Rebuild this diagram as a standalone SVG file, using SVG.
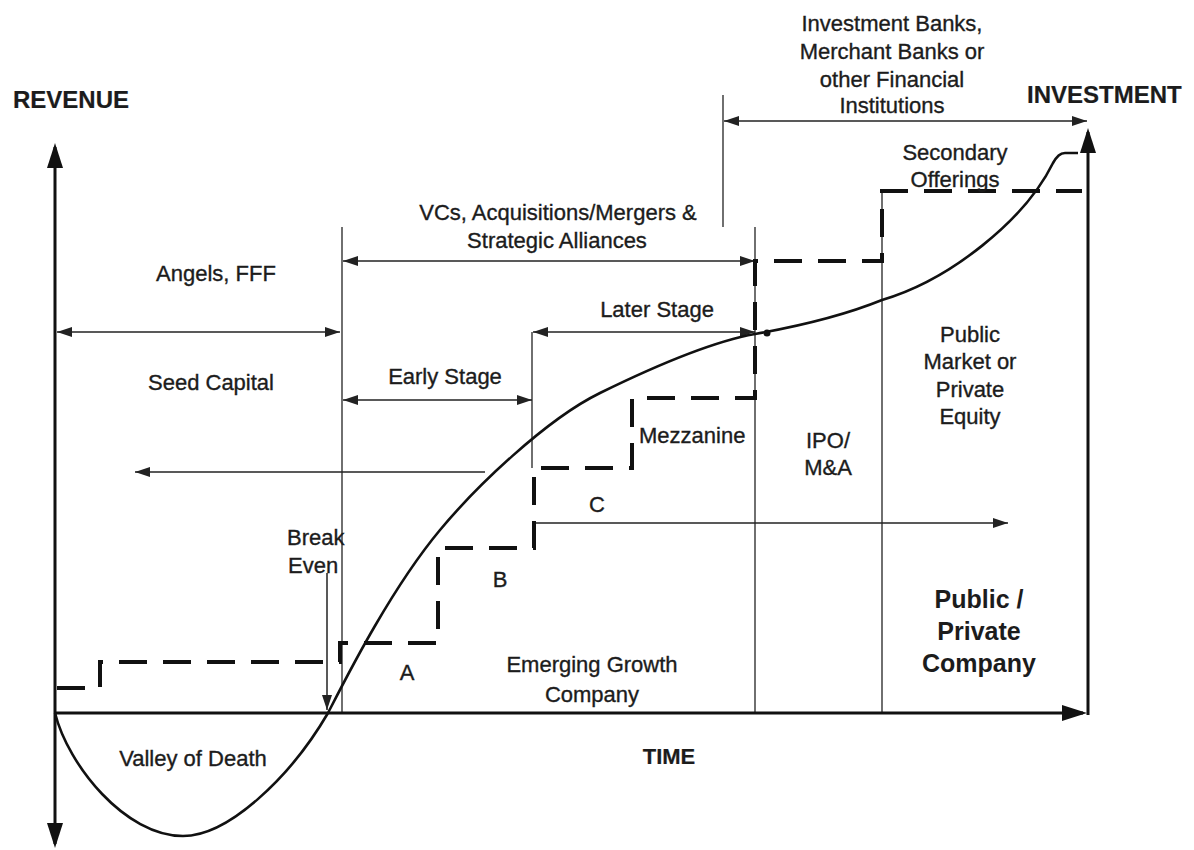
<svg xmlns="http://www.w3.org/2000/svg" width="1194" height="850" viewBox="0 0 1194 850">
<style>
text{font-family:"Liberation Sans",Arial,sans-serif;fill:#1c1c1c;font-size:22px;stroke:#1c1c1c;stroke-width:0.35}
.c{text-anchor:middle}
.b{font-weight:bold;font-size:24px;stroke-width:0.2}
.big{font-size:25px;font-weight:bold;stroke-width:0}
.thin{stroke:#222;stroke-width:1.5;fill:none}
.sep{stroke:#333;stroke-width:1.4;fill:none}
.axis{stroke:#111;stroke-width:3;fill:none}
.inv{stroke:#111;stroke-width:4;fill:none;stroke-dasharray:28 16}
.rev{stroke:#111;stroke-width:2.6;fill:none}
</style>
<defs>
<marker id="ah" markerUnits="userSpaceOnUse" markerWidth="15" markerHeight="10" refX="15" refY="5" orient="auto-start-reverse"><path d="M0,0 L15,5 L0,10 z" fill="#222"/></marker>
<marker id="ax" markerUnits="userSpaceOnUse" markerWidth="25" markerHeight="16" refX="21" refY="8" orient="auto-start-reverse"><path d="M0,0 L25,8 L0,16 z" fill="#111"/></marker>
</defs>
<rect width="1194" height="850" fill="#fff"/>
<g id="connectors">
<line class="sep" x1="342" y1="227" x2="342" y2="713"/>
<line class="sep" x1="532" y1="332" x2="532" y2="468"/>
<line class="sep" x1="723" y1="95" x2="723" y2="227"/>
<line class="sep" x1="755" y1="227" x2="755" y2="713"/>
<line class="sep" x1="882" y1="191" x2="882" y2="713"/>
<line class="thin" x1="57" y1="332" x2="340" y2="332" marker-start="url(#ah)" marker-end="url(#ah)"/>
<line class="thin" x1="343" y1="261" x2="755" y2="261" marker-start="url(#ah)" marker-end="url(#ah)"/>
<line class="thin" x1="724" y1="121" x2="1087" y2="121" marker-start="url(#ah)" marker-end="url(#ah)"/>
<line class="thin" x1="533" y1="332" x2="755" y2="332" marker-start="url(#ah)" marker-end="url(#ah)"/>
<line class="thin" x1="343" y1="400" x2="532" y2="400" marker-start="url(#ah)" marker-end="url(#ah)"/>
<line class="thin" x1="485" y1="472" x2="135" y2="472" marker-end="url(#ah)"/>
<line class="thin" x1="535" y1="523" x2="1008" y2="523" marker-end="url(#ah)"/>
<line class="thin" x1="327" y1="573" x2="327" y2="710" marker-end="url(#ah)"/>
<line class="axis" x1="55" y1="713" x2="55" y2="147" marker-end="url(#ax)"/>
<line class="axis" x1="55" y1="713" x2="55" y2="844" marker-end="url(#ax)"/>
<line class="axis" x1="54" y1="713" x2="1083" y2="713" marker-end="url(#ax)"/>
<line class="axis" x1="1088" y1="715" x2="1088" y2="132" marker-end="url(#ax)"/>
<path class="inv" d="M57,688 H100 V662 H340 V643 H438 V548 H534 V468 H632 V398 H755 V261 H882 V191 H1082"/>
<path class="rev" d="M55,713 C68,765 125,836 183,836 C228,836 290,778 328,713 C345,680 390,590 440,530 C475,488 545,420 600,393 C655,366 710,342 755,334 C800,326 845,315 882,300 C950,280 1025,220 1053,163 C1057,156 1060,153 1065,153 L1078,153"/>
<circle cx="767" cy="333" r="3.5" fill="#111"/>
</g>
<g id="revenue-label"><text class="b" x="13" y="108">REVENUE</text></g>
<g id="investment-label"><text class="b" x="1027" y="103">INVESTMENT</text></g>
<g id="time-label"><text class="b c" x="669" y="764" style="font-size:22px">TIME</text></g>
<g id="banks"><text class="c" x="892" y="31">Investment Banks,</text><text class="c" x="892" y="59">Merchant Banks or</text><text class="c" x="892" y="87">other Financial</text><text class="c" x="892" y="113">Institutions</text></g>
<g id="secondary"><text class="c" x="955" y="160">Secondary</text><text class="c" x="955" y="187">Offerings</text></g>
<g id="vcs"><text class="c" x="558" y="220">VCs, Acquisitions/Mergers &amp;</text><text class="c" x="557" y="248">Strategic Alliances</text></g>
<g id="angels"><text class="c" x="216" y="281">Angels, FFF</text></g>
<g id="seed"><text class="c" x="211" y="390">Seed Capital</text></g>
<g id="later"><text class="c" x="657" y="317">Later Stage</text></g>
<g id="early"><text class="c" x="445" y="384">Early Stage</text></g>
<g id="mezzanine"><text x="639" y="443">Mezzanine</text></g>
<g id="public-market"><text class="c" x="970" y="342">Public</text><text class="c" x="970" y="369">Market or</text><text class="c" x="970" y="397">Private</text><text class="c" x="970" y="424">Equity</text></g>
<g id="ipo"><text class="c" x="828" y="448">IPO/</text><text class="c" x="828" y="475">M&amp;A</text></g>
<g id="break-even"><text x="287" y="545">Break</text><text x="288" y="573">Even</text></g>
<g id="stage-a"><text class="c" x="407" y="680">A</text></g>
<g id="stage-b"><text class="c" x="500" y="587">B</text></g>
<g id="stage-c"><text class="c" x="597" y="512">C</text></g>
<g id="emerging"><text class="c" x="592" y="672">Emerging Growth</text><text class="c" x="592" y="702">Company</text></g>
<g id="public-private"><text class="c big" x="979" y="608">Public /</text><text class="c big" x="979" y="640">Private</text><text class="c big" x="979" y="672">Company</text></g>
<g id="valley"><text class="c" x="193" y="766">Valley of Death</text></g>
</svg>
